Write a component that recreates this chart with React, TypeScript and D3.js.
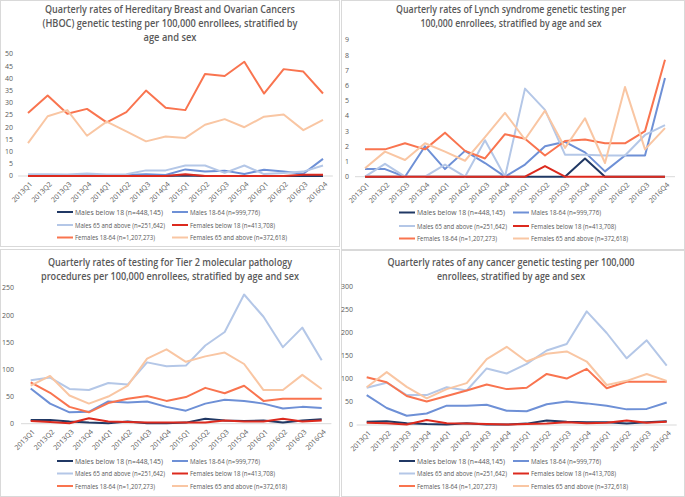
import React from 'react';
import * as d3 from 'd3';

const quarters = ['2013Q1','2013Q2','2013Q3','2013Q4','2014Q1','2014Q2','2014Q3','2014Q4','2015Q1','2015Q2','2015Q3','2015Q4','2016Q1','2016Q2','2016Q3','2016Q4'];

const seriesNames = [
  'Males below 18 (n=448,145)',
  'Males 18-64 (n=999,776)',
  'Males 65 and above (n=251,642)',
  'Females below 18 (n=413,708)',
  'Females 18-64 (n=1,207,273)',
  'Females 65 and above (n=372,618)',
];
const seriesColors = ['#203864', '#6E90D6', '#B4C7E7', '#DC2A1E', '#F9744F', '#F9C6A3'];

// HBOC
const hbocMalesU18 = [0,0,0,0,0,0,0,0,0.2,0,0,0,0,0,0,0];
const hbocMales1864 = [0.3,0.3,0.3,0.3,0.3,0.4,0.7,0.4,2.7,1.8,2.2,0.8,2.6,1.8,0.9,7.0];
const hbocMales65 = [0.7,0.7,0.6,1.0,0.6,0.7,2.3,2.3,4.3,4.3,1.3,4.3,0.8,1.2,1.8,4.3];
const hbocFemalesU18 = [0,0,0,0,0,0,0,0,0.7,0,0,0,0,0,0.5,0.5];
const hbocFemales1864 = [25.8,33,25.5,27.5,22,26.2,35,28,27,41.8,41,46.8,33.8,43.8,42.8,33.8];
const hbocFemales65 = [13.5,24.5,27,16.5,22.3,18.3,14.2,16.2,15.6,21,23.3,20,24.3,25.2,18.8,23];

// Lynch
const lynchMalesU18 = [0,0,0,0,0,0,0,0,0,0,0,1.2,0,0,0,0];
const lynchMales1864 = [0.5,0.5,0,2.0,0.5,1.7,0.9,0,0.8,2.0,2.3,1.6,0.35,1.4,1.4,6.5];
const lynchMales65 = [0,0.85,0,0,0.8,0,2.4,0,5.8,4.4,1.45,1.45,1.4,1.4,2.75,3.4];
const lynchFemalesU18 = [0,0,0,0,0,0,0,0,0,0.7,0,0,0,0,0,0];
const lynchFemales1864 = [1.8,1.8,2.2,1.8,2.9,1.7,1.2,2.8,2.5,1.4,2.35,2.45,2.2,2.2,3.0,7.7];
const lynchFemales65 = [0.55,1.65,1.1,2.2,1.65,1.05,2.6,4.2,2.45,4.35,1.9,3.85,0.9,5.9,1.8,3.2];

// Tier 2
const tierMalesU18 = [7,7,4,2,1,4,1,1,2,9,6,5,6,2,6,8];
const tierMales1864 = [65,37,21,22,41,39,41,31,24,37,44,42,37,28,31,29];
const tierMales65 = [80,85,64,62,75,72,113,106,107,144,169,238,197,141,177,117];
const tierFemalesU18 = [5,3,1,10,4,3,2,2,2,2,6,4,4,9,4,6];
const tierFemales1864 = [76,57,31,21,38,46,51,42,49,66,56,70,42,46,46,46];
const tierFemales65 = [70,88,52,37,50,70,120,137,114,124,131,110,62,62,90,64];

// Any cancer
const anyMalesU18 = [7,8,4,2,1,4,1,1,3,10,7,6,6,3,6,8];
const anyMales1864 = [65,37,20,25,42,42,44,31,30,45,51,47,42,34,35,49];
const anyMales65 = [81,92,65,65,82,75,123,112,133,162,176,247,200,145,184,129];
const anyFemalesU18 = [5,4,1,11,4,3,2,1,2,3,6,4,5,10,5,7];
const anyFemales1864 = [104,93,63,51,63,75,88,78,81,111,101,122,80,94,94,94];
const anyFemales65 = [82,115,83,58,78,91,143,170,138,155,160,138,87,96,111,96];

const hbocTicks = [0,5,10,15,20,25,30,35,40,45,50];
const lynchTicks = [0,1,2,3,4,5,6,7,8,9];
const tierTicks = [0,50,100,150,200,250];
const anyTicks = [0,50,100,150,200,250,300];

const hbocTitle = ['Quarterly rates of Hereditary Breast and Ovarian Cancers', '(HBOC) genetic testing per 100,000 enrollees, stratified by', 'age and sex'];
const lynchTitle = ['Quarterly rates of Lynch syndrome genetic testing per', '100,000 enrollees, stratified by age and sex'];
const tierTitle = ['Quarterly rates of testing for Tier 2 molecular pathology', 'procedures per 100,000 enrollees, stratified by age and sex'];
const anyTitle = ['Quarterly rates of any cancer genetic testing per 100,000', 'enrollees, stratified by age and sex'];

const legendWidths = [88, 70, 90, 85, 80, 97];

const panels = [
  {
    frame: [0.5, 0.5, 339, 246], title: hbocTitle, titleW: [250, 255, 53], titleY: [13, 27, 41], cx: 170,
    series: [hbocMalesU18, hbocMales1864, hbocMales65, hbocFemalesU18, hbocFemales1864, hbocFemales65],
    ticks: hbocTicks, xFirst: 28, xLast: 323, y0: 176, yTop: 54, tickRight: 13,
    legendY: [212, 225, 237.5], legendX: [57, 172],
  },
  {
    frame: [341.5, 0.5, 343, 249], title: lynchTitle, titleW: [230, 181], titleY: [13, 27], cx: 511,
    series: [lynchMalesU18, lynchMales1864, lynchMales65, lynchFemalesU18, lynchFemales1864, lynchFemales65],
    ticks: lynchTicks, xFirst: 365, xLast: 665, y0: 176.7, yTop: 40, tickRight: 349,
    legendY: [212.5, 226, 238.5], legendX: [399, 513],
  },
  {
    frame: [0.5, 249.5, 339, 247], title: tierTitle, titleW: [244, 258], titleY: [266, 280], cx: 170,
    series: [tierMalesU18, tierMales1864, tierMales65, tierFemalesU18, tierFemales1864, tierFemales65],
    ticks: tierTicks, xFirst: 30.7, xLast: 321.7, y0: 423.7, yTop: 288, tickRight: 14,
    legendY: [461, 473.5, 486], legendX: [57, 172],
  },
  {
    frame: [341.5, 250.5, 343, 246], title: anyTitle, titleW: [247, 148], titleY: [266, 280], cx: 511,
    series: [anyMalesU18, anyMales1864, anyMales65, anyFemalesU18, anyFemales1864, anyFemales65],
    ticks: anyTicks, xFirst: 366.7, xLast: 666.7, y0: 425, yTop: 287, tickRight: 353,
    legendY: [461, 473.5, 486], legendX: [399, 513],
  },
];

const textColor = '#595959';

function Panel({ p }: { p: any }) {
  const x = d3.scalePoint<string>().domain(quarters).range([p.xFirst, p.xLast]);
  const step = x.step();
  const maxT = p.ticks[p.ticks.length - 1];
  const y = d3.scaleLinear().domain([0, maxT]).range([p.y0, p.yTop]);
  const line = d3.line<number>().x((_, i) => x(quarters[i]) as number).y((d) => y(d));
  const [fx, fy, fw, fh] = p.frame;
  return (
    <g>
      <rect x={fx} y={fy} width={fw} height={fh} fill="#fff" stroke="#d9d9d9" strokeWidth={1} />
      {p.title.map((t: string, i: number) => (
        <text key={i} x={p.cx} y={p.titleY[i]} textAnchor="middle" fontSize={11} fontWeight={600}
          fill={textColor} fontFamily="'Open Sans', sans-serif" textLength={p.titleW[i]} lengthAdjust="spacingAndGlyphs">{t}</text>
      ))}
      {p.ticks.map((t: number) => (
        <text key={t} x={p.tickRight} y={y(t)} dy="0.35em" textAnchor="end" fontSize={7}
          fill={textColor} fontFamily="'Open Sans', sans-serif">{t}</text>
      ))}
      <line x1={p.xFirst - step / 2} x2={p.xLast + step / 2} y1={p.y0} y2={p.y0} stroke="#d9d9d9" strokeWidth={1} />
      {quarters.map((q) => (
        <text key={q} transform={`translate(${(x(q) as number) + 3},${p.y0 + 7}) rotate(-45)`} textAnchor="end"
          dy="0.35em" fontSize={7} fill={textColor} fontFamily="'Open Sans', sans-serif">{q}</text>
      ))}
      {p.series.map((s: number[], i: number) => (
        <path key={i} d={line(s) || ''} fill="none" stroke={seriesColors[i]} strokeWidth={2} strokeLinejoin="round" />
      ))}
      {seriesNames.map((n, i) => {
        const lx = p.legendX[i % 2];
        const ly = p.legendY[Math.floor(i / 2)];
        return (
          <g key={n}>
            <line x1={lx} x2={lx + 16} y1={ly} y2={ly} stroke={seriesColors[i]} strokeWidth={2} />
            <text x={lx + 18} y={ly} dy="0.35em" fontSize={8} fill={textColor} fontFamily="'Open Sans', sans-serif"
              textLength={legendWidths[i]} lengthAdjust="spacingAndGlyphs">{n}</text>
          </g>
        );
      })}
    </g>
  );
}

export default function App() {
  return (
    <svg width={685} height={497} style={{ position: 'absolute', left: 0, top: 0, background: '#fff' }}>
      <rect x={0} y={0} width={685} height={497} fill="#fff" />
      {panels.map((p, i) => <Panel key={i} p={p} />)}
    </svg>
  );
}
